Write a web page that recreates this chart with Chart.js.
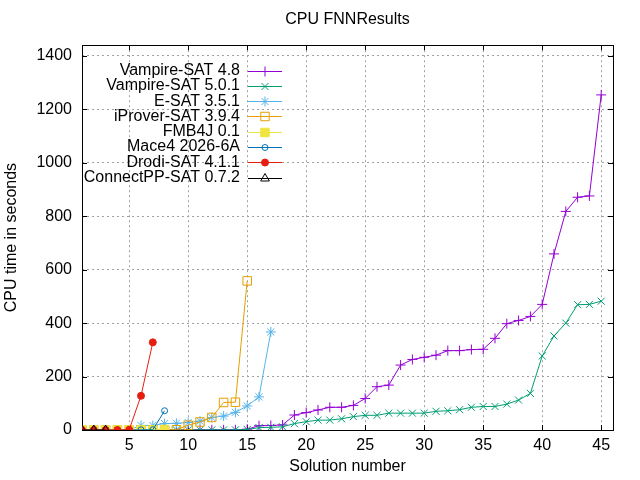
<!DOCTYPE html>
<html>
<head>
<meta charset="utf-8">
<script src="https://cdn.jsdelivr.net/npm/chart.js@4"></script>
<style>
  html, body { margin: 0; padding: 0; background: #fff; }
  #wrap { width: 640px; height: 480px; }
</style>
</head>
<body>
<div id="wrap"><canvas id="chart"></canvas></div>
<script>
// solved-problem times, sorted, one entry per solution number
const seriesNames = ['Vampire-SAT 4.8', 'Vampire-SAT 5.0.1', 'E-SAT 3.5.1', 'iProver-SAT 3.9.4',
  'FMB4J 0.1', 'Mace4 2026-6A', 'Drodi-SAT 4.1.1', 'ConnectPP-SAT 0.7.2'];

const vampire48 = [0, 0, 0, 0, 0, 0, 0, 0, 0, 0.5, 0.5, 0.6, 0.7, 0.8, 3, 16, 17,
  19, 56, 65, 75, 85, 85, 92, 118, 162, 168, 243, 264, 272, 280, 297, 297, 301, 302,
  343, 398, 410, 425, 470, 659, 818, 871, 876, 1254];
const vampire501 = [0, 0, 0, 0, 0, 0, 0, 0, 0, 0.3, 0.4, 0.5, 0.6, 0.7, 2, 9, 10,
  12, 24, 31, 37, 37, 42, 50, 55, 55, 63, 63, 63, 63, 70, 72, 76, 85, 88, 88, 97,
  112, 137, 277, 352, 400, 469, 470, 482];
const esat = [0, 0, 0, 0, 0.5, 17, 17, 24, 25, 28, 33, 47, 52, 66, 90, 124, 367];
const iprover = [0, 0, 0, 0, 0, 0, 0, 0, 1, 18, 30, 47, 103, 104, 558];
const fmb4j = [0, 0, 0, 0, 0, 0, 0, 2];
const mace4 = [0, 0, 0, 0, 0, 0.5, 1, 72];
const drodi = [0, 0, 0, 0, 1, 128, 328];
const connectpp = [0, 0, 0];

const xTicks = [5, 10, 15, 20, 25, 30, 35, 40, 45];
const yTicks = [0, 200, 400, 600, 800, 1000, 1200, 1400];

const allValues = [vampire48, vampire501, esat, iprover, fmb4j, mace4, drodi, connectpp];
const colors = ['#9400d3', '#009e73', '#56b4e9', '#e69f00', '#f0e442', '#0072b2', '#e51e10', '#000000'];
const styles = [
  { pointStyle: 'cross', radius: 5, fill: false },
  { pointStyle: 'crossRot', radius: 5, fill: false },
  { pointStyle: 'star', radius: 5, fill: false },
  { pointStyle: 'rect', radius: 6, fill: false },
  { pointStyle: 'rect', radius: 6, fill: true },
  { pointStyle: 'circle', radius: 3, fill: false },
  { pointStyle: 'circle', radius: 3.5, fill: true },
  { pointStyle: 'triangle', radius: 5, fill: false }
];

const FONT = 'Liberation Sans, Arial, sans-serif';

const datasets = allValues.map((vals, i) => ({
  label: seriesNames[i],
  data: vals.map((v, k) => ({ x: k + 1, y: v })),
  borderColor: colors[i],
  backgroundColor: styles[i].fill ? colors[i] : 'rgba(0,0,0,0)',
  borderWidth: 1,
  pointStyle: styles[i].pointStyle,
  pointRadius: styles[i].radius,
  pointBorderWidth: 1,
  pointBorderColor: colors[i],
  pointBackgroundColor: styles[i].fill ? colors[i] : 'rgba(0,0,0,0)',
  tension: 0,
  order: allValues.length - i   // later series on top, like gnuplot
}));

// frame with inward ticks on all four sides
const framePlugin = {
  id: 'frame',
  beforeDatasetsDraw(chart) {
    const { ctx, chartArea: a, scales } = chart;
    ctx.save();
    ctx.strokeStyle = '#000';
    ctx.lineWidth = 1;
    ctx.beginPath();
    xTicks.forEach(v => {
      const px = Math.round(scales.x.getPixelForValue(v)) + 0.5;
      ctx.moveTo(px, a.bottom); ctx.lineTo(px, a.bottom - 5);
      ctx.moveTo(px, a.top); ctx.lineTo(px, a.top + 5);
    });
    yTicks.forEach(v => {
      const py = Math.round(scales.y.getPixelForValue(v)) + 0.5;
      ctx.moveTo(a.left, py); ctx.lineTo(a.left + 5, py);
      ctx.moveTo(a.right, py); ctx.lineTo(a.right - 5, py);
    });
    ctx.stroke();
    ctx.strokeRect(Math.round(a.left) + 0.5, Math.round(a.top) + 0.5,
      Math.round(a.right - a.left), Math.round(a.bottom - a.top));
    ctx.restore();
  }
};

// gnuplot-style key: right-aligned text, then line sample with marker
const keyPlugin = {
  id: 'key',
  afterDraw(chart) {
    const ctx = chart.ctx;
    ctx.save();
    ctx.font = '16px ' + FONT;
    ctx.textAlign = 'right';
    ctx.textBaseline = 'middle';
    chart.data.datasets.forEach((ds, i) => {
      const y = 70.5 + i * 15.3;
      ctx.fillStyle = '#000';
      ctx.fillText(ds.label, 240, y);
      ctx.strokeStyle = ds.borderColor;
      ctx.lineWidth = 1;
      ctx.beginPath();
      ctx.moveTo(248, Math.round(y) + 0.5);
      ctx.lineTo(282, Math.round(y) + 0.5);
      ctx.stroke();
      ctx.fillStyle = ds.pointBackgroundColor;
      Chart.helpers.drawPoint(ctx, {
        pointStyle: ds.pointStyle, radius: ds.pointRadius, rotation: 0, borderWidth: 1
      }, 265, Math.round(y) + 0.5);
    });
    ctx.restore();
  }
};

new Chart(document.getElementById('chart'), {
  type: 'line',
  data: { datasets: datasets },
  plugins: [framePlugin, keyPlugin],
  options: {
    responsive: true,
    maintainAspectRatio: false,
    animation: false,
    layout: { padding: { left: 0, right: 27, top: 0, bottom: 0 } },
    plugins: {
      legend: { display: false },
      tooltip: { enabled: false },
      title: {
        display: true,
        text: 'CPU FNNResults',
        fullSize: false,
        color: '#000',
        font: { family: FONT, size: 16, weight: 'normal' },
        padding: { top: 10, bottom: 16 }
      }
    },
    scales: {
      x: {
        type: 'linear',
        min: 1,
        max: 46,
        afterBuildTicks: axis => { axis.ticks = xTicks.map(v => ({ value: v })); },
        afterFit: scale => { scale.height = 50; },
        ticks: { color: '#000', font: { family: FONT, size: 16 }, padding: 6, maxRotation: 0 },
        grid: { color: '#a0a0a0', lineWidth: 1, drawTicks: false },
        border: { display: false, dash: [2, 3] },
        title: {
          display: true, text: 'Solution number', color: '#000',
          font: { family: FONT, size: 16 }, padding: { top: 0, bottom: 4 }
        }
      },
      y: {
        type: 'linear',
        min: 0,
        max: 1440,
        afterBuildTicks: axis => { axis.ticks = yTicks.map(v => ({ value: v })); },
        afterFit: scale => { scale.width = 82; },
        ticks: {
          color: '#000', font: { family: FONT, size: 16 }, padding: 10,
          callback: v => String(v)
        },
        grid: { color: '#a0a0a0', lineWidth: 1, drawTicks: false },
        border: { display: false, dash: [2, 3] },
        title: {
          display: true, text: 'CPU time in seconds', color: '#000',
          font: { family: FONT, size: 16 }, padding: { top: 2, bottom: 0 }
        }
      }
    }
  }
});
</script>
</body>
</html>
